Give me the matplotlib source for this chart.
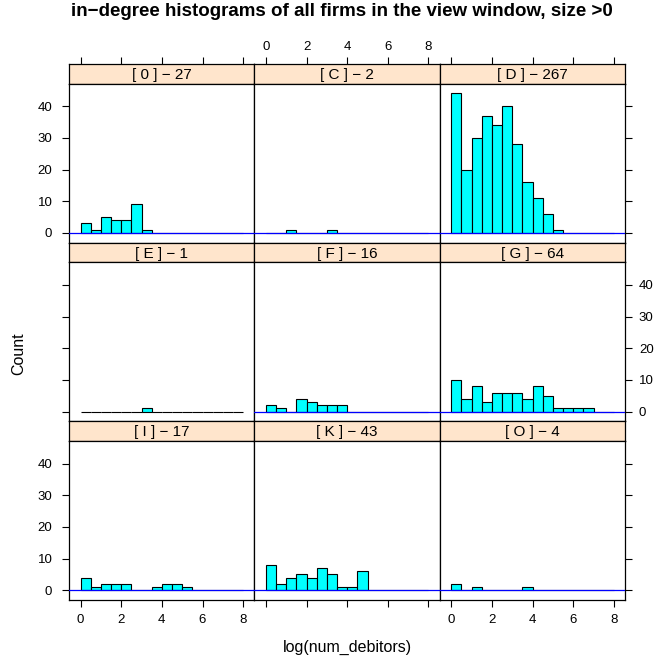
import numpy as np
import matplotlib
matplotlib.use("Agg")
import matplotlib.pyplot as plt

plt.rcParams['font.family'] = ['Liberation Sans', 'DejaVu Sans']

# ---------------- DATA ----------------
# counts per bin of width 0.5 on log(num_debitors), bins start at 0
BIN_WIDTH = 0.5
N_BINS = 16

sectors = ["0", "C", "D", "E", "F", "G", "I", "K", "O"]
totals = [27, 2, 267, 1, 16, 64, 17, 43, 4]

counts_0 = [3, 1, 5, 4, 4, 9, 1]
counts_C = [0, 0, 1, 0, 0, 0, 1]
counts_D = [44, 20, 30, 37, 34, 40, 28, 16, 11, 6, 1]
counts_E = [0, 0, 0, 0, 0, 0, 1]
counts_F = [2, 1, 0, 4, 3, 2, 2, 2]
counts_G = [10, 4, 8, 3, 6, 6, 6, 4, 8, 5, 1, 1, 1, 1]
counts_I = [4, 1, 2, 2, 2, 0, 0, 1, 2, 2, 1]
counts_K = [8, 2, 4, 5, 4, 7, 5, 1, 1, 6]
counts_O = [2, 0, 1, 0, 0, 0, 0, 1]

all_counts = [counts_0, counts_C, counts_D, counts_E, counts_F,
              counts_G, counts_I, counts_K, counts_O]

x_ticks = [0, 2, 4, 6, 8]
y_ticks = [0, 10, 20, 30, 40]

# ---------------- LAYOUT (pixels) ----------------
W, H = 654, 661
LEFT, RIGHT = 69, 625
TOP = 64
ROW_H = 178.7
STRIP_H = 19.7
COL_W = (RIGHT - LEFT) / 3

STRIP_COLOR = "#FFE5CC"
BAR_COLOR = "#00FFFF"

XLIM = (-0.57, 8.55)
YLIM = (-3.08, 47.08)

TICK_FS = 9.5
STRIP_FS = 11
LABEL_FS = 11.5


def rect(x0, y0, w, h):
    return [x0 / W, 1 - (y0 + h) / H, w / W, h / H]


fig = plt.figure(figsize=(W / 100, H / 100), dpi=100)

edges = np.arange(N_BINS) * BIN_WIDTH

for idx, (sec, tot, cnt) in enumerate(zip(sectors, totals, all_counts)):
    row, col = divmod(idx, 3)
    x0 = LEFT + col * COL_W
    y0 = TOP + row * ROW_H

    # strip
    sax = fig.add_axes(rect(x0, y0, COL_W, STRIP_H))
    sax.set_facecolor(STRIP_COLOR)
    sax.set_xlim(*XLIM)
    sax.set_ylim(0, 1)
    sax.text(np.mean(XLIM), 0.45, f"[ {sec} ] \u2212 {tot}", ha="center",
             va="center", fontsize=STRIP_FS)
    sax.set_yticks([])
    for sp in sax.spines.values():
        sp.set_linewidth(0.9)
    if row == 0:
        sax.xaxis.set_ticks_position("top")
        sax.set_xticks(x_ticks)
        sax.tick_params(axis="x", direction="out", length=5, width=0.8,
                        labelsize=TICK_FS, pad=3, labeltop=(col == 1))
        if col != 1:
            sax.set_xticklabels([])
    else:
        sax.set_xticks([])

    # panel
    ax = fig.add_axes(rect(x0, y0 + STRIP_H, COL_W, ROW_H - STRIP_H))
    vals = np.zeros(N_BINS)
    vals[:len(cnt)] = cnt
    ax.bar(edges, vals, width=BIN_WIDTH, align="edge", color=BAR_COLOR,
           edgecolor="black", linewidth=0.8, zorder=2)
    if sec != "E":
        ax.axhline(0, color="blue", linewidth=0.9, zorder=3)
    ax.set_xlim(*XLIM)
    ax.set_ylim(*YLIM)
    for sp in ax.spines.values():
        sp.set_linewidth(0.9)

    # x axis: only bottom row
    if row == 2:
        ax.set_xticks(x_ticks)
        ax.tick_params(axis="x", direction="out", length=5, width=0.8,
                       labelsize=TICK_FS, pad=5)
        if col == 1:
            ax.set_xticklabels([])
    else:
        ax.set_xticks([])

    # y axis: outer columns only, labels alternate
    if col == 0 or col == 2:
        ax.set_yticks(y_ticks)
        if col == 0:
            ax.yaxis.set_ticks_position("left")
        else:
            ax.yaxis.set_ticks_position("right")
        ax.tick_params(axis="y", direction="out", length=5, width=0.8,
                       labelsize=TICK_FS, pad=7 if col == 0 else 5)
        show = (col == 0 and row != 1) or (col == 2 and row == 1)
        ax.tick_params(axis="y", labelleft=(col == 0 and show),
                       labelright=(col == 2 and show))
    else:
        ax.set_yticks([])

fig.text(342 / W, 1 - 12 / H,
         "in\u2212degree histograms of all firms in the view window, size >0",
         ha="center", va="center", fontsize=13.5, fontweight="bold")
fig.text(19 / W, 1 - 354 / H, "Count", rotation=90, ha="center",
         va="center", fontsize=LABEL_FS)
fig.text(347 / W, 1 - 647 / H, "log(num_debitors)", ha="center",
         va="center", fontsize=LABEL_FS)

fig.savefig("out.png", dpi=100)
